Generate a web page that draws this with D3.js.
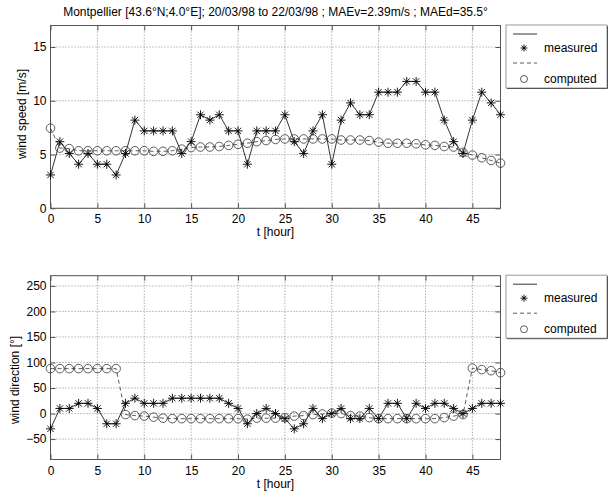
<!DOCTYPE html>
<html><head><meta charset="utf-8">
<script src="https://cdn.jsdelivr.net/npm/d3@7"></script>
<style>
body{margin:0;background:#fff;}
text{font-family:"Liberation Sans",Arial,sans-serif;font-size:12px;fill:#000;}
</style></head>
<body><svg id="c" width="608" height="495"></svg>
<script>
const hours = [0,1,2,3,4,5,6,7,8,9,10,11,12,13,14,15,16,17,18,19,20,21,22,23,24,25,26,27,28,29,30,31,32,33,34,35,36,37,38,39,40,41,42,43,44,45,46,47,48];
const speedMeasured = [3.1,6.2,5.1,4.1,5.1,4.1,4.1,3.1,5.1,8.2,7.2,7.2,7.2,7.2,5.1,6.2,8.7,8.2,8.7,7.2,7.2,4.1,7.2,7.2,7.2,8.7,6.2,5.1,7.2,8.7,4.1,8.2,9.8,8.7,8.7,10.8,10.8,10.8,11.8,11.8,10.8,10.8,8.2,6.2,5.1,8.2,10.8,9.8,8.7];
const speedComputed = [7.45,5.6,5.55,5.35,5.35,5.35,5.35,5.35,5.35,5.35,5.35,5.3,5.3,5.35,5.5,5.65,5.7,5.7,5.75,5.85,5.95,6.05,6.2,6.3,6.4,6.45,6.45,6.45,6.45,6.45,6.45,6.35,6.35,6.35,6.3,6.15,6.05,6.05,6.05,6.0,5.9,5.85,5.75,5.7,5.2,4.95,4.7,4.45,4.2];
const dirMeasured = [-30,10,10,20,20,10,-20,-20,20,30,20,20,20,30,30,30,30,30,30,20,10,-20,0,10,0,-10,-30,-20,10,-10,0,10,-10,-10,10,-10,20,20,-10,20,10,20,20,10,0,10,20,20,20];
const dirComputed = [88,88,88,88,88,88,88,88,-2,-4,-5,-7,-9,-10,-10,-10,-10,-10,-10,-10,-10,-11,-9,-9,-9,-8,-5,-4,-2,-1,1,0,-4,-5,-8,-10,-10,-10,-10,-10,-10,-10,-8,-5,-2,89,86,84,80];
const xTicks = [0,5,10,15,20,25,30,35,40,45];
const speedTicks = [0,5,10,15];
const dirTicks = [-50,0,50,100,150,200,250];
const legendLabels = ["measured","computed"];
const titleText = "Montpellier [43.6°N;4.0°E]; 20/03/98 to 22/03/98 ; MAEv=2.39m/s ; MAEd=35.5°";

const svg = d3.select("#c");
const L = 50.5, R = 500.5;
const x = d3.scaleLinear().domain([0,48]).range([L,R]);

svg.append("text").attr("x",(L+R)/2).attr("y",16).attr("text-anchor","middle").text(titleText);

function star(s){
  const d=0.7*s;
  return `M${-s},0H${s}M0,${-s}V${s}M${-d},${-d}L${d},${d}M${-d},${d}L${d},${-d}`;
}

function panel(top,bottom,domain,yTicks,measured,computed,ylabel){
  const y = d3.scaleLinear().domain(domain).range([bottom,top]);
  const g = svg.append("g");
  g.selectAll(".gx").data(xTicks).join("line")
    .attr("x1",d=>x(d)).attr("x2",d=>x(d)).attr("y1",top).attr("y2",bottom)
    .attr("stroke","#888").attr("stroke-dasharray","1,2");
  g.selectAll(".gy").data(yTicks).join("line")
    .attr("x1",L).attr("x2",R).attr("y1",d=>y(d)).attr("y2",d=>y(d))
    .attr("stroke","#888").attr("stroke-dasharray","1,2");
  const tl=5;
  const fmt = a=>{a.select(".domain").remove();a.selectAll("line").attr("stroke","#555");a.selectAll("text").attr("font-size",12).attr("font-family","Liberation Sans, Arial");};
  g.append("g").attr("transform",`translate(0,${bottom})`)
    .call(d3.axisBottom(x).tickValues(xTicks).tickSize(-tl).tickPadding(6.5).tickSizeOuter(0)).call(fmt);
  g.append("g").attr("transform",`translate(0,${top})`)
    .call(d3.axisTop(x).tickValues(xTicks).tickSize(-tl).tickFormat("").tickSizeOuter(0)).call(fmt);
  g.append("g").attr("transform",`translate(${L},0)`)
    .call(d3.axisLeft(y).tickValues(yTicks).tickSize(-tl).tickPadding(4).tickSizeOuter(0)).call(fmt);
  g.append("g").attr("transform",`translate(${R},0)`)
    .call(d3.axisRight(y).tickValues(yTicks).tickSize(-tl).tickFormat("").tickSizeOuter(0)).call(fmt);
  g.append("rect").attr("x",L).attr("y",top).attr("width",R-L).attr("height",bottom-top)
    .attr("fill","none").attr("stroke","#555");
  const line = arr => d3.line().x((d,i)=>x(hours[i])).y(d=>y(d))(arr);
  g.append("path").attr("d",line(computed)).attr("fill","none").attr("stroke","#333").attr("stroke-width",0.8).attr("stroke-dasharray","4,3");
  g.append("path").attr("d",line(measured)).attr("fill","none").attr("stroke","#000").attr("stroke-width",0.8);
  g.selectAll(".c").data(computed).join("circle")
    .attr("cx",(d,i)=>x(hours[i])).attr("cy",d=>y(d)).attr("r",4.3)
    .attr("fill","none").attr("stroke","#333").attr("stroke-width",0.8);
  g.selectAll(".s").data(measured).join("path")
    .attr("transform",(d,i)=>`translate(${x(hours[i])},${y(d)})`).attr("d",star(4.5))
    .attr("stroke","#000").attr("stroke-width",0.9).attr("fill","none");
  g.append("text").attr("x",(L+R)/2).attr("y",bottom+28).attr("text-anchor","middle").text("t [hour]");
  g.append("text").attr("transform",`translate(${ylabel.x},${ylabel.y}) rotate(-90)`)
    .attr("text-anchor","middle").text(ylabel.t);
  const lx=506, ly=top-0.5, lw=101, lh=63;
  const lg = svg.append("g");
  lg.append("rect").attr("x",lx).attr("y",ly).attr("width",lw).attr("height",lh).attr("fill","#fff").attr("stroke","#999");
  lg.append("path").attr("d",`M${lx+1},${ly+lh+0.5}H${lx+lw+0.5}V${ly+1}`).attr("fill","none").attr("stroke","#555");
  lg.append("line").attr("x1",lx+7).attr("x2",lx+31).attr("y1",ly+9).attr("y2",ly+9).attr("stroke","#000").attr("stroke-width",0.8);
  lg.append("path").attr("transform",`translate(${lx+18},${ly+23})`).attr("d",star(3.5)).attr("stroke","#000").attr("stroke-width",0.9);
  lg.append("text").attr("x",lx+38).attr("y",ly+27).text(legendLabels[0]);
  lg.append("line").attr("x1",lx+7).attr("x2",lx+31).attr("y1",ly+38).attr("y2",ly+38).attr("stroke","#333").attr("stroke-width",0.8).attr("stroke-dasharray","4,3");
  lg.append("circle").attr("cx",lx+18).attr("cy",ly+54).attr("r",3.5).attr("fill","none").attr("stroke","#333").attr("stroke-width",0.8);
  lg.append("text").attr("x",lx+38).attr("y",ly+58).text(legendLabels[1]);
}

panel(25.5,208.3,[0,17],speedTicks,speedMeasured,speedComputed,{x:26,y:114,t:"wind speed [m/s]"});
panel(275.7,459.5,[-90,270],dirTicks,dirMeasured,dirComputed,{x:19,y:380,t:"wind direction [°]"});
</script></body></html>
